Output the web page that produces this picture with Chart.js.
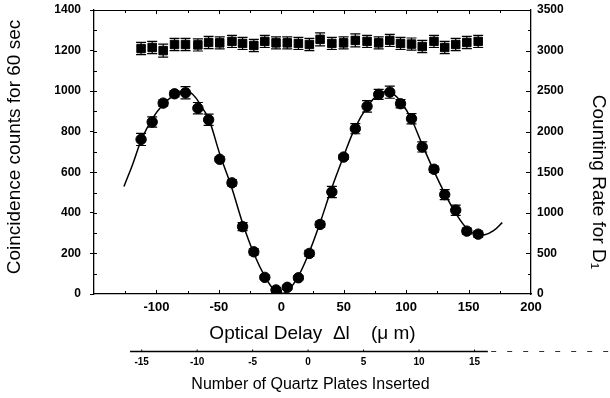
<!DOCTYPE html>
<html><head><meta charset="utf-8">
<script src="https://cdn.jsdelivr.net/npm/chart.js@4.4.0/dist/chart.umd.min.js"></script>
<style>html,body{margin:0;padding:0;background:#fff;}</style>
</head><body>
<canvas id="c" width="610" height="398"></canvas>
<script>
// ---- data ----
const delayUm = [-112.3, -103.4, -94.6, -85.5, -76.7, -66.8, -58.2, -49.3, -39.5, -31.0, -22.0, -13.2, -4.2, 4.8, 13.7, 22.5, 31.1, 40.5, 49.9, 59.3, 68.7, 78.0, 86.9, 95.5, 104.3, 112.9, 122.3, 130.9, 139.7, 148.6, 157.7];
const coincidenceCounts = [762, 848, 941, 987, 992, 916, 859, 664, 548, 332, 208, 82, 20, 33, 80, 200, 343, 503, 675, 815, 925, 984, 995, 938, 864, 725, 615, 490, 413, 310, 295];
const coincidenceErr = [30, 25, 15, 15, 30, 28, 28, 12, 15, 20, 15, 10, 10, 10, 10, 15, 15, 28, 12, 25, 28, 25, 30, 20, 25, 25, 15, 25, 25, 15, 15];
const countingRate = [3025, 3038, 3000, 3075, 3075, 3070, 3100, 3095, 3113, 3088, 3063, 3113, 3095, 3095, 3088, 3075, 3138, 3088, 3095, 3125, 3113, 3095, 3125, 3088, 3080, 3050, 3113, 3038, 3075, 3100, 3113];
const countingRateErr = [75, 75, 80, 75, 75, 75, 75, 75, 75, 75, 75, 75, 75, 75, 75, 75, 80, 75, 75, 80, 75, 75, 75, 75, 75, 75, 75, 75, 75, 75, 75];
const fitDelay = [-126, -119, -112, -103.5, -94.5, -85.5, -78, -71, -63, -58, -49, -40, -31, -22, -13, -5, 0, 5, 13, 22, 31, 40, 50, 59, 69, 77, 84, 90, 96, 104, 113, 122, 131, 140, 149, 156, 163, 170, 177];
const fitCounts = [530, 640, 760, 862, 935, 982, 1000, 985, 915, 862, 685, 530, 350, 200, 85, 15, 2, 15, 80, 200, 350, 515, 680, 818, 925, 980, 998, 985, 945, 865, 735, 610, 495, 395, 320, 293, 292, 312, 352];
const delayTicks = [-100, -50, 0, 50, 100, 150, 200];
const plateTicks = [-15, -10, -5, 0, 5, 10, 15];
const leftTicks = [0, 200, 400, 600, 800, 1000, 1200, 1400];
const rightTicks = [0, 500, 1000, 1500, 2000, 2500, 3000, 3500];

const FONT = '"Liberation Sans", Arial, Helvetica, sans-serif';
Chart.defaults.font.family = FONT;
Chart.defaults.color = '#000';

const toPts = (xs, ys) => xs.map((x, i) => ({x, y: ys[i]}));
const plain = v => String(v);

const decor = {
  id: 'decor',
  beforeDraw(chart) {
    const ctx = chart.ctx;
    ctx.save(); ctx.fillStyle = '#fff'; ctx.fillRect(0, 0, chart.width, chart.height); ctx.restore();
  },
  afterDatasetsDraw(chart) {
    const ctx = chart.ctx;
    const {x, x2, y, y2} = chart.scales;
    const ca = chart.chartArea;
    ctx.save();
    ctx.strokeStyle = '#000';
    ctx.lineWidth = 1.2;
    // error bars
    const bars = (xs, ys, es, ys_scale) => {
      xs.forEach((xv, i) => {
        const px = x.getPixelForValue(xv);
        const top = ys_scale.getPixelForValue(ys[i] + es[i]);
        const bot = ys_scale.getPixelForValue(ys[i] - es[i]);
        ctx.beginPath();
        ctx.moveTo(px, top); ctx.lineTo(px, bot);
        ctx.moveTo(px - 5, top); ctx.lineTo(px + 5, top);
        ctx.moveTo(px - 5, bot); ctx.lineTo(px + 5, bot);
        ctx.stroke();
      });
    };
    bars(delayUm, coincidenceCounts, coincidenceErr, y);
    bars(delayUm, countingRate, countingRateErr, y2);
    // top frame
    ctx.lineWidth = 1;
    ctx.beginPath(); ctx.moveTo(ca.left, ca.top + 0.5); ctx.lineTo(ca.right, ca.top + 0.5); ctx.stroke();
    // inside ticks on x (bottom & top)
    ctx.beginPath();
    for (let v = -125; v <= 175; v += 25) {
      const px = Math.round(x.getPixelForValue(v)) + 0.5;
      const len = (v % 50 === 0) ? 4 : 3;
      ctx.moveTo(px, ca.bottom); ctx.lineTo(px, ca.bottom - len);
      ctx.moveTo(px, ca.top); ctx.lineTo(px, ca.top + len);
    }
    // minor inside ticks left
    for (let v = 100; v < 1400; v += 100) {
      const py = Math.round(y.getPixelForValue(v)) + 0.5;
      ctx.moveTo(ca.left, py); ctx.lineTo(ca.left + 3, py);
    }
    // inside ticks right
    for (let v = 250; v < 3500; v += 250) {
      const py = Math.round(y2.getPixelForValue(v)) + 0.5;
      ctx.moveTo(ca.right, py); ctx.lineTo(ca.right - (v % 500 === 0 ? 5 : 3), py);
    }
    ctx.stroke();
    // secondary (quartz plates) axis line
    const ly = x2.top + 0.5;
    ctx.lineWidth = 1.3;
    ctx.beginPath();
    ctx.moveTo(x2.getPixelForValue(-16.05), ly); ctx.lineTo(x2.getPixelForValue(16.2), ly);
    ctx.stroke();
    ctx.lineWidth = 1;
    ctx.beginPath();
    plateTicks.forEach(p => { const px = x2.getPixelForValue(p); ctx.moveTo(px, ly); ctx.lineTo(px, ly - 2); });
    ctx.stroke();
    ctx.setLineDash([5, 11]);
    ctx.strokeStyle = '#333';
    ctx.beginPath();
    ctx.moveTo(x2.getPixelForValue(16.5), ly); ctx.lineTo(x2.getPixelForValue(27.2), ly);
    ctx.stroke();
    ctx.setLineDash([]);
    // titles
    ctx.fillStyle = '#000';
    ctx.textAlign = 'center'; ctx.textBaseline = 'middle';
    const cx = (ca.left + ca.right) / 2;
    ctx.font = '19px ' + FONT;
    ctx.fillText('Optical Delay  \u0394l    (\u03bc m)', cx, 334);
    ctx.font = '16px ' + FONT;
    ctx.fillText('Number of Quartz Plates Inserted', cx - 2, 385);
    ctx.font = '19px ' + FONT;
    ctx.save(); ctx.translate(15, 147); ctx.rotate(-Math.PI / 2);
    ctx.fillText('Coincidence counts for 60 sec', 0, 0); ctx.restore();
    ctx.save(); ctx.translate(598, 182); ctx.rotate(Math.PI / 2);
    ctx.fillText('Counting Rate for D\u2081', 0, 0); ctx.restore();
    ctx.restore();
  }
};

const noVPad = s => { s.paddingTop = 0; s.paddingBottom = 0; };

new Chart(document.getElementById('c'), {
  type: 'line',
  data: {
    datasets: [
      { label: 'fit', data: toPts(fitDelay, fitCounts), yAxisID: 'y', borderColor: '#000', borderWidth: 1.5, pointRadius: 0, tension: 0.4, fill: false },
      { label: 'coincidence', type: 'scatter', data: toPts(delayUm, coincidenceCounts), yAxisID: 'y', pointStyle: 'circle', pointRadius: 5.2, backgroundColor: '#000', borderColor: '#000', borderWidth: 1 },
      { label: 'rate', type: 'scatter', data: toPts(delayUm, countingRate), yAxisID: 'y2', pointStyle: 'rect', pointRadius: 6, backgroundColor: '#000', borderColor: '#000', borderWidth: 1 }
    ]
  },
  options: {
    responsive: false, devicePixelRatio: 1, animation: false,
    layout: { padding: { top: 10, bottom: 0, left: 0, right: 0 } },
    plugins: { legend: { display: false }, tooltip: { enabled: false } },
    scales: {
      x: {
        type: 'linear', position: 'bottom', weight: 0, min: -150, max: 200,
        afterBuildTicks: s => { s.ticks = delayTicks.map(v => ({value: v})); },
        ticks: { font: { size: 13, weight: 'bold' }, padding: 6, maxRotation: 0, autoSkip: false, callback: plain },
        grid: { drawOnChartArea: false, drawTicks: false },
        border: { display: true, color: '#000', width: 1.3 },
        afterFit: s => { s.height = 57; }
      },
      x2: {
        type: 'linear', position: 'bottom', weight: 1, min: -19.3, max: 20.09,
        afterBuildTicks: s => { s.ticks = plateTicks.map(v => ({value: v})); },
        ticks: { font: { size: 10, weight: 'bold' }, padding: 5, maxRotation: 0, autoSkip: false, callback: plain },
        grid: { display: false, drawTicks: false },
        border: { display: false },
        afterFit: s => { s.height = 47; }
      },
      y: {
        position: 'left', min: 0, max: 1400,
        afterBuildTicks: s => { s.ticks = leftTicks.map(v => ({value: v})); },
        ticks: { font: { size: 12, weight: 'bold' }, padding: 9, callback: plain },
        grid: { drawOnChartArea: false, drawTicks: true, tickLength: 4, color: '#000' },
        border: { display: true, color: '#000', width: 1.3 },
        afterFit: s => { s.width = 94; noVPad(s); }
      },
      y2: {
        position: 'right', min: 0, max: 3500,
        afterBuildTicks: s => { s.ticks = rightTicks.map(v => ({value: v})); },
        ticks: { font: { size: 12, weight: 'bold' }, padding: 6, callback: plain },
        grid: { drawOnChartArea: false, drawTicks: false },
        border: { display: true, color: '#000', width: 1.3 },
        afterFit: s => { s.width = 79; noVPad(s); }
      }
    }
  },
  plugins: [decor]
});
</script>
</body></html>
